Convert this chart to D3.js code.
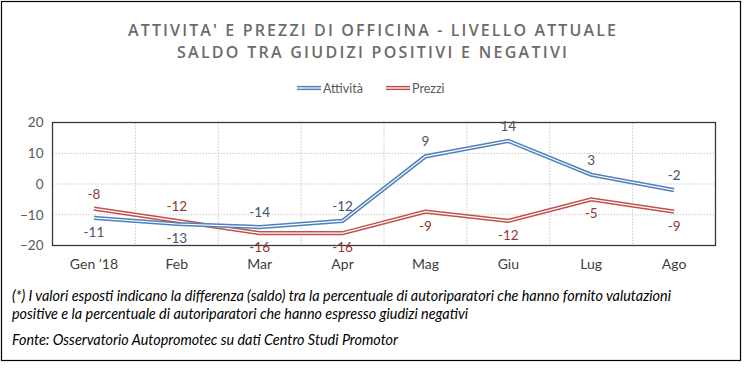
<!DOCTYPE html>
<html><head><meta charset="utf-8">
<script src="https://cdn.jsdelivr.net/npm/d3@7"></script>
<style>
html,body{margin:0;padding:0;background:#fff;}
svg{display:block;font-family:Lato,"Open Sans",sans-serif;}
</style></head>
<body><svg id="c" width="748" height="370"></svg>
<script>
const categories = ["Gen \u201918","Feb","Mar","Apr","Mag","Giu","Lug","Ago"];
const attivita = [-11,-13,-14,-12,9,14,3,-2];
const prezzi = [-8,-12,-16,-16,-9,-12,-5,-9];
const attivitaLabelPos = ["below","below","above","above","above","above","above","above"];
const prezziLabelPos = ["above","above","below","below","below","below","below","below"];
const yTicks = [-20,-10,0,10,20];
const titleLines = ["ATTIVITA' E PREZZI DI OFFICINA - LIVELLO ATTUALE","SALDO TRA GIUDIZI POSITIVI E NEGATIVI"];
const noteLines = ["(*) I valori esposti indicano la differenza (saldo) tra la percentuale di autoriparatori che hanno fornito valutazioni",
 "positive e la percentuale di autoriparatori che hanno espresso giudizi negativi"];
const sourceLine = "Fonte: Osservatorio Autopromotec su dati Centro Studi Promotor";

const svg = d3.select("#c");
svg.append("rect").attr("x",1.5).attr("y",1.5).attr("width",739).attr("height",359)
  .attr("fill","#fff").attr("stroke","#000").attr("stroke-width",1.2);

const L=52.5,R=715.5,T=122.5,B=245.5;
const x = d3.scaleBand().domain(categories).range([L,R]);
const y = d3.scaleLinear().domain([-20,20]).range([B,T]);

// title
const titleW = [488,390];
svg.selectAll(".title").data(titleLines).join("text")
  .attr("x",372).attr("y",(d,i)=>36+i*22).attr("text-anchor","middle")
  .attr("fill","#6b6b6b").attr("font-size",16).attr("font-weight",600)
  .attr("font-family","'Open Sans',sans-serif")
  .attr("textLength",(d,i)=>titleW[i]).attr("lengthAdjust","spacing").text(d=>d);

// grid
const g = svg.append("g");
g.selectAll(".hg").data(yTicks.slice(1,-1)).join("line")
  .attr("x1",L).attr("x2",R).attr("y1",d=>y(d)).attr("y2",d=>y(d))
  .attr("stroke","#c8c8c8").attr("stroke-dasharray","1.5,1.5");
g.selectAll(".vg").data(categories.slice(1)).join("line")
  .attr("x1",d=>x(d)).attr("x2",d=>x(d)).attr("y1",T).attr("y2",B)
  .attr("stroke","#c8c8c8").attr("stroke-dasharray","1.5,1.5");

// axes
const yAxis = svg.append("g").attr("transform",`translate(${L},0)`)
  .call(d3.axisLeft(y).tickValues(yTicks).tickSize(0).tickPadding(9));
yAxis.select(".domain").remove();
yAxis.selectAll("text").attr("font-size",13.5).attr("fill","#595959").attr("font-family","Lato,sans-serif");
const xAxis = svg.append("g").attr("transform",`translate(0,${B})`)
  .call(d3.axisBottom(x).tickSize(0).tickPadding(14));
xAxis.select(".domain").remove();
xAxis.selectAll("text").attr("font-size",14).attr("fill","#404040").attr("font-family","Lato,sans-serif");

svg.append("rect").attr("x",L).attr("y",T).attr("width",R-L).attr("height",B-T)
  .attr("fill","none").attr("stroke","#3a3a3a").attr("stroke-width",1.3);

// lines
const line = d3.line().x((d,i)=>x(categories[i])+x.bandwidth()/2).y(d=>y(d));
function dbl(data,color){
  svg.append("path").attr("d",line(data)).attr("fill","none").attr("stroke",color)
    .attr("stroke-width",4.2).attr("stroke-linejoin","miter");
  svg.append("path").attr("d",line(data)).attr("fill","none").attr("stroke","#fff")
    .attr("stroke-width",1.2).attr("stroke-linejoin","miter");
}
dbl(prezzi,"#C0504D");
dbl(attivita,"#4F81BD");

function labels(data,pos,color){
  svg.append("g").selectAll("text").data(data).join("text")
    .attr("x",(d,i)=>x(categories[i])+x.bandwidth()/2)
    .attr("y",(d,i)=>y(d)+(pos[i]==="above"?-10:19))
    .attr("text-anchor","middle").attr("font-size",13.5).attr("fill",color).text(d=>d);
}
labels(attivita,attivitaLabelPos,"#44546A");
labels(prezzi,prezziLabelPos,"#943634");

// legend
const leg = [{n:"Attivit\u00e0",c:"#4F81BD",x:297},{n:"Prezzi",c:"#C0504D",x:386}];
leg.forEach(l=>{
  const p = `M${l.x},88L${l.x+24},88`;
  svg.append("path").attr("d",p).attr("stroke",l.c).attr("stroke-width",4.2);
  svg.append("path").attr("d",p).attr("stroke","#fff").attr("stroke-width",1.2);
  svg.append("text").attr("x",l.x+26).attr("y",92.5).attr("font-size",12.5).attr("fill","#595959").text(l.n);
});

// notes
svg.selectAll(".note").data(noteLines).join("text")
  .attr("x",12).attr("y",(d,i)=>301+i*18).attr("font-size",14.4).attr("font-style","italic")
  .attr("fill","#000").text(d=>d);
svg.append("text").attr("x",12).attr("y",345).attr("font-size",14.4).attr("font-style","italic")
  .attr("fill","#000").text(sourceLine);
</script></body></html>
